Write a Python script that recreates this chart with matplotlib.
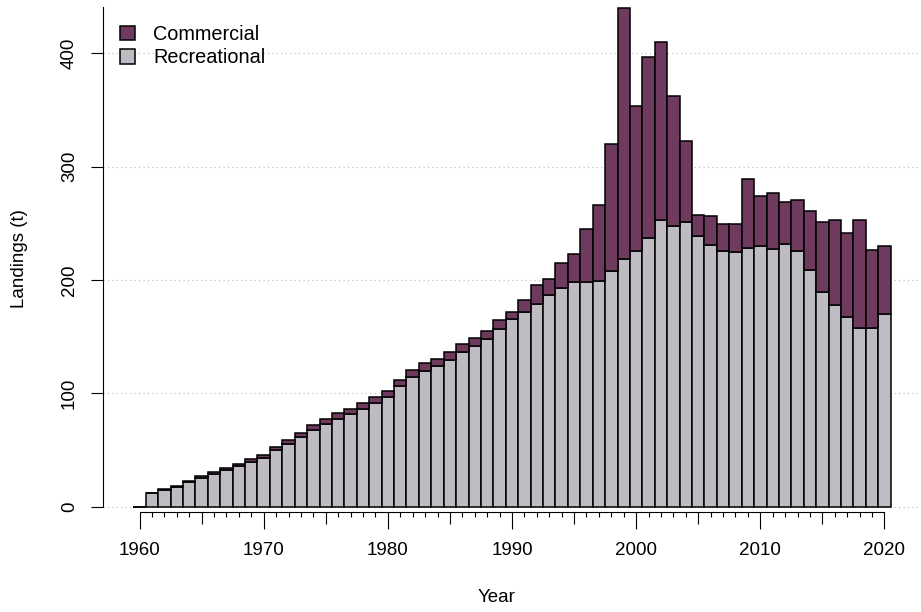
"""Stacked landings bar chart: recreational + commercial, 1960-2020."""
import matplotlib
matplotlib.use('Agg')
import matplotlib.pyplot as plt
from matplotlib.ticker import FixedLocator
import numpy as np

plt.rcParams['font.family'] = ['Liberation Sans', 'DejaVu Sans']

years = list(range(1960, 2021))
recreational = [
    0, 11.8, 14.4, 17.4, 21.8, 25.3, 28.8, 32.1, 35.6, 39.4,
    43.0, 49.8, 55.0, 61.2, 67.7, 72.7, 77.4, 81.8, 86.5, 91.2,
    97.0, 106.2, 114.7, 120.0, 124.1, 129.4, 136.2, 141.8, 147.7, 156.5,
    165.3, 172.0, 178.8, 186.8, 193.2, 198.5, 198.5, 199.4, 207.9, 218.2,
    225.9, 236.8, 252.9, 247.6, 251.4, 238.5, 231.1, 225.9, 224.7, 228.2,
    230.0, 227.1, 231.8, 225.9, 208.8, 189.1, 177.9, 167.6, 157.4, 157.9,
    170.0,
]
commercial = [
    0, 0.5, 1.2, 1.1, 1.1, 1.8, 2.1, 2.3, 2.3, 2.7,
    2.9, 3.1, 3.6, 4.1, 4.1, 4.4, 5.0, 4.7, 5.3, 5.6,
    5.3, 5.6, 5.9, 6.5, 6.5, 6.8, 7.1, 7.3, 7.6, 8.2,
    6.7, 10.4, 16.5, 14.1, 21.5, 24.2, 46.2, 66.8, 111.8, 222.0,
    127.9, 160.2, 156.8, 115.0, 71.5, 18.8, 25.7, 23.5, 24.4, 60.9,
    44.1, 49.9, 36.7, 44.7, 51.8, 62.1, 74.8, 73.6, 95.8, 68.3,
    60.3,
]

COL_COM = '#6E3B5F'
COL_REC = '#BEBCC2'

fig = plt.figure(figsize=(9.21, 6.12), dpi=100)
ax = fig.add_axes([103 / 921, 100.3 / 612, 818 / 921, 504.9 / 612])

# dotted horizontal grid under the bars
for g in [0, 100, 200, 300, 400]:
    ax.axhline(g, color='#B8B8B8', lw=0.8, ls=(0, (1, 3)), zorder=0)

ax.bar(years, recreational, width=1.0, color=COL_REC, edgecolor='black',
       lw=1.1, label='Recreational', zorder=2)
ax.bar(years, commercial, bottom=recreational, width=1.0, color=COL_COM,
       edgecolor='black', lw=1.1, label='Commercial', zorder=2)

ax.set_xlim(1957.06, 2022.94)
ax.set_ylim(-4.4, 441)

# R-style axes
for s in ['top', 'right']:
    ax.spines[s].set_visible(False)
ax.spines['left'].set_bounds(0, 441)
ax.spines['bottom'].set_bounds(1960, 2020)
ax.spines['left'].set_linewidth(0.8)
ax.spines['bottom'].set_linewidth(0.8)

# x ticks: every 5 years major (long on decades), every year minor
ax.xaxis.set_major_locator(FixedLocator(list(range(1960, 2021, 5))))
ax.xaxis.set_minor_locator(FixedLocator([y for y in years if y % 5]))
ax.set_xticklabels([str(y) if y % 10 == 0 else '' for y in range(1960, 2021, 5)])
ax.tick_params(axis='x', which='major', length=12, width=0.8, pad=10,
               labelsize=13.5)
ax.tick_params(axis='x', which='minor', length=3.5, width=0.8)
for t, y in zip(ax.xaxis.get_major_ticks(), range(1960, 2021, 5)):
    if y % 10:
        t.tick1line.set_markersize(8.4)

ax.yaxis.set_major_locator(FixedLocator([0, 100, 200, 300, 400]))
ax.tick_params(axis='y', length=8.6, width=0.8, pad=9.5, labelsize=13.5)
for lab in ax.get_yticklabels():
    lab.set_rotation(90)
    lab.set_va('center')

fig.text(497 / 921, 1 - 597 / 612, 'Year', ha='center', va='center',
         fontsize=13.5)
fig.text(20 / 921, 1 - 259 / 612, 'Landings (t)', ha='center', va='center',
         rotation=90, fontsize=13.5)

handles, labels = ax.get_legend_handles_labels()
ax.legend(handles[::-1], labels[::-1], loc='upper left',
          bbox_to_anchor=(0.021, 0.964), frameon=False, fontsize=14.3,
          handlelength=0.75, handleheight=0.75, handletextpad=0.9,
          labelspacing=0.22, borderpad=0, borderaxespad=0)

plt.savefig('out.png', dpi=100)
